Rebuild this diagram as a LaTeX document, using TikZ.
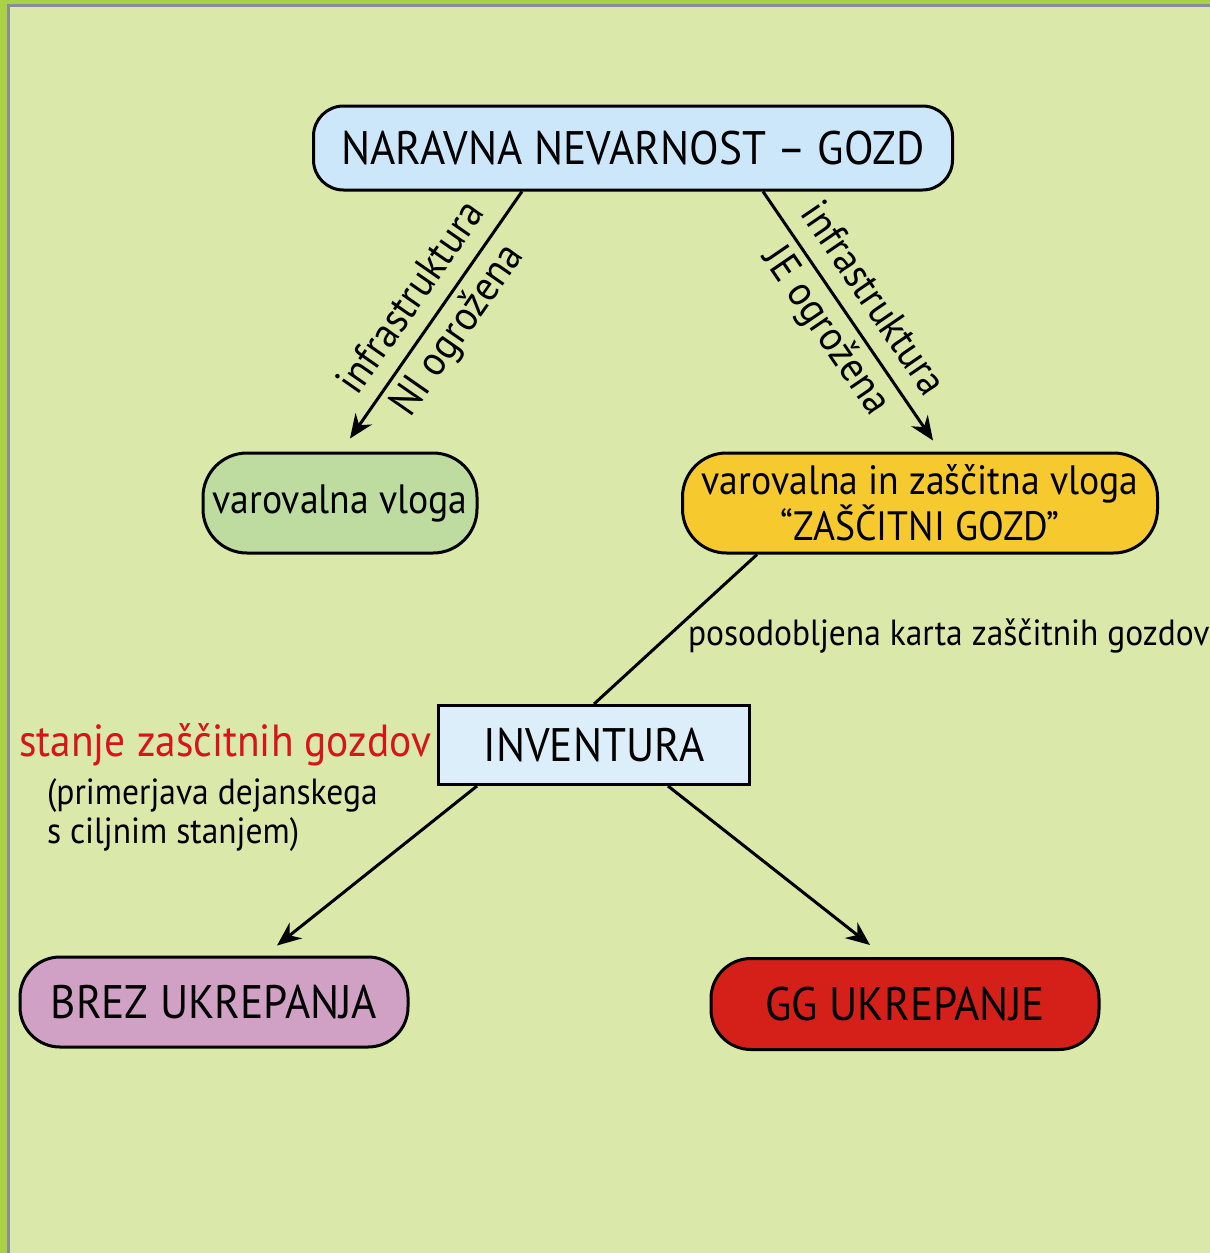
\documentclass[tikz,border=0pt]{standalone}
\usepackage{fontspec}
\setmainfont{PT Sans}[FakeStretch=0.92]
\usetikzlibrary{arrows.meta}
\definecolor{outergreen}{RGB}{170,210,70}
\definecolor{framegray}{RGB}{140,140,150}
\definecolor{bggreen}{RGB}{218,232,170}
\definecolor{topblue}{RGB}{204,230,250}
\definecolor{roleGreen}{RGB}{190,220,160}
\definecolor{roleYellow}{RGB}{246,202,46}
\definecolor{invBlue}{RGB}{220,238,250}
\definecolor{nonePink}{RGB}{208,160,197}
\definecolor{actRed}{RGB}{213,32,26}
\definecolor{stateRed}{RGB}{215,20,25}
\tikzset{
  box/.style={draw, line width=1.5pt, rounded corners=20pt, inner sep=0pt, align=center},
  link/.style={line width=1.5pt},
  arrow/.style={link, -{Stealth[length=12pt,width=10pt]}},
  big/.style={font=\fontsize{23.5}{26}\selectfont},
  mid/.style={font=\fontsize{20.5}{22}\selectfont},
  tag/.style={font=\fontsize{21}{28}\selectfont, sloped, align=center},
  small/.style={font=\fontsize{18.2}{19.5}\selectfont}
}
\begin{document}
\begin{tikzpicture}[x=0.5pt,y=-0.5pt]
\useasboundingbox (0,0) rectangle (1210,1253);
\fill[outergreen] (0,0) rectangle (1210,1253);
\fill[framegray] (7,4) rectangle (1210,1253);
\fill[bggreen] (10,7) rectangle (1210,1253);

\node (top) at (633,148) [box, big, fill=topblue, rounded corners=15pt,
  minimum width=319.5pt, minimum height=42pt] {NARAVNA NEVARNOST – GOZD};
\node (vlog) at (340,503) [box, mid, fill=roleGreen, rounded corners=22pt,
  minimum width=137pt, minimum height=50pt] {varovalna vloga};
\node (zas) at (920,503) [box, mid, fill=roleYellow, rounded corners=22pt,
  minimum width=237.5pt, minimum height=50pt] {varovalna in zaščitna vloga\\“ZAŠČITNI GOZD”};
\node (inv) at (594,745) [box, big, fill=invBlue, rounded corners=0pt,
  minimum width=155.5pt, minimum height=39.5pt] {INVENTURA};
\node (brez) at (214,1002) [box, big, fill=nonePink,
  minimum width=194pt, minimum height=45pt] {BREZ UKREPANJA};
\node (gg) at (905,1004) [box, big, fill=actRed,
  minimum width=194pt, minimum height=45.5pt] {GG UKREPANJE};

\node (map) at (681,636) [anchor=west, small] {posodobljena karta zaščitnih gozdov};
\node (state) at (438,745) [anchor=east, text=stateRed, font=\fontsize{22.5}{24}\selectfont] {stanje zaščitnih gozdov};
\node (note) at (40,815) [anchor=west, align=left, small] {(primerjava dejanskega\\s ciljnim stanjem)};

\draw[arrow] ([xshift=-55.5pt]top.south) -- node[tag]
  {infrastruktura\\NI ogrožena} ([xshift=5pt,yshift=6.5pt]vlog.north);
\draw[arrow] ([xshift=65pt]top.south) -- node[tag]
  {infrastruktura\\JE ogrožena} ([xshift=6.5pt,yshift=5.5pt]zas.north);
\draw[link] ([xshift=-81.5pt]zas.south) -- (inv.north);
\draw[arrow] ([xshift=-58.5pt]inv.south) -- ([xshift=31.5pt,yshift=5pt]brez.north);
\draw[arrow] ([xshift=37pt]inv.south) -- ([xshift=-17.5pt,yshift=6pt]gg.north);
\end{tikzpicture}
\end{document}
